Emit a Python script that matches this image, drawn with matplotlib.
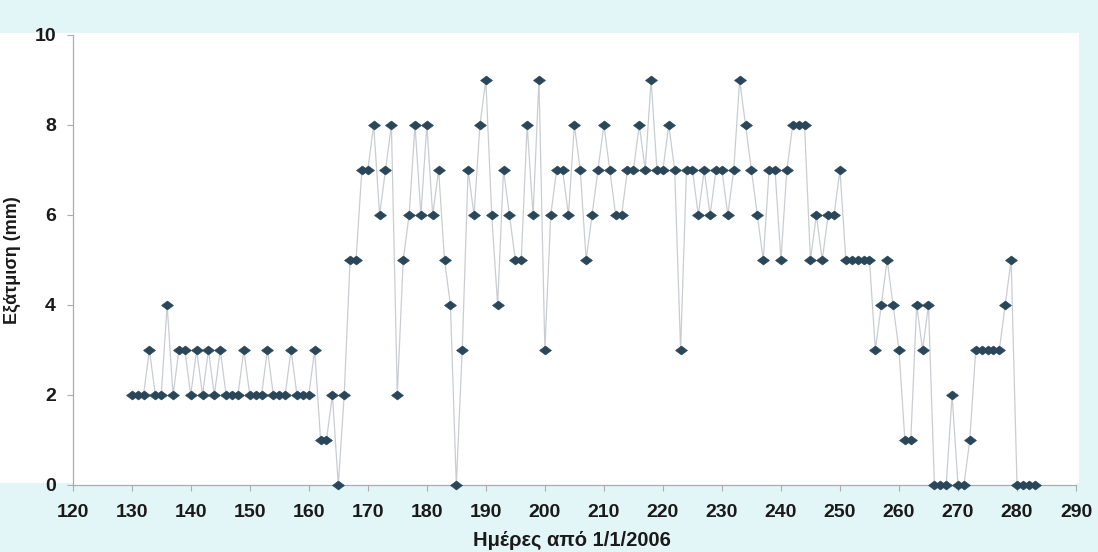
import numpy as np
import matplotlib
matplotlib.use('Agg')
import matplotlib.pyplot as plt
from matplotlib.patches import Rectangle
from matplotlib.path import Path

# day of year (from 1/1/2006) and evaporation in mm
days = list(range(130, 284))
evap = [
    2, 2, 2, 3, 2, 2, 4, 2, 3, 3,   # 130-139
    2, 3, 2, 3, 2, 3, 2, 2, 2, 3,   # 140-149
    2, 2, 2, 3, 2, 2, 2, 3, 2, 2,   # 150-159
    2, 3, 1, 1, 2, 0, 2, 5, 5, 7,   # 160-169
    7, 8, 6, 7, 8, 2, 5, 6, 8, 6,   # 170-179
    8, 6, 7, 5, 4, 0, 3, 7, 6, 8,   # 180-189
    9, 6, 4, 7, 6, 5, 5, 8, 6, 9,   # 190-199
    3, 6, 7, 7, 6, 8, 7, 5, 6, 7,   # 200-209
    8, 7, 6, 6, 7, 7, 8, 7, 9, 7,   # 210-219
    7, 8, 7, 3, 7, 7, 6, 7, 6, 7,   # 220-229
    7, 6, 7, 9, 8, 7, 6, 5, 7, 7,   # 230-239
    5, 7, 8, 8, 8, 5, 6, 5, 6, 6,   # 240-249
    7, 5, 5, 5, 5, 5, 3, 4, 5, 4,   # 250-259
    3, 1, 1, 4, 3, 4, 0, 0, 0, 2,   # 260-269
    0, 0, 1, 3, 3, 3, 3, 3, 4, 5,   # 270-279
    0, 0, 0, 0,                     # 280-283
]

xticks = list(range(120, 300, 10))
yticks = list(range(0, 12, 2))

plt.rcParams['font.family'] = ['Liberation Sans', 'DejaVu Sans']
plt.rcParams['font.weight'] = 'bold'

# flat diamond marker
flat_diamond = Path([(-1, 0), (0, 0.75), (1, 0), (0, -0.75), (-1, 0)],
                    [Path.MOVETO, Path.LINETO, Path.LINETO, Path.LINETO, Path.CLOSEPOLY])

fig = plt.figure(figsize=(10.98, 5.52), dpi=100, facecolor='#e3f6f7')
fig.patches.append(Rectangle((0, 0.125), 0.983, 0.815, transform=fig.transFigure,
                             facecolor='white', edgecolor='none', zorder=-10))
ax = fig.add_axes([0.0662, 0.1214, 0.9138, 0.8152])
ax.set_facecolor('white')

ax.plot(days, evap, color='#c9cdd1', linewidth=0.9, zorder=2)
ax.plot(days, evap, linestyle='none', marker=flat_diamond, markersize=8.5,
        markerfacecolor='#2a4759', markeredgecolor='#2a4759', markeredgewidth=0.5,
        clip_on=False, zorder=3)

ax.set_xlim(120, 290)
ax.set_ylim(0, 10)
ax.set_xticks(xticks)
ax.set_yticks(yticks)

for s in ['top', 'right']:
    ax.spines[s].set_visible(False)
for s in ['left', 'bottom']:
    ax.spines[s].set_color('#a9adb1')
    ax.spines[s].set_linewidth(0.9)

ax.tick_params(axis='both', direction='out', length=4, color='#a9adb1',
               labelsize=14, labelcolor='#1a1a1a')
ax.tick_params(axis='x', pad=10)
ax.tick_params(axis='y', pad=8)

ax.set_xlabel('Ημέρες από 1/1/2006', fontsize=14.5, fontweight='bold', color='#1a1a1a')
ax.xaxis.set_label_coords(0.498, -0.103)
ax.set_ylabel('Εξάτμιση (mm)', fontsize=13, fontweight='bold', color='#1a1a1a')
ax.yaxis.set_label_coords(-0.052, 0.5)

fig.savefig('out.png', dpi=100, facecolor=fig.get_facecolor())
